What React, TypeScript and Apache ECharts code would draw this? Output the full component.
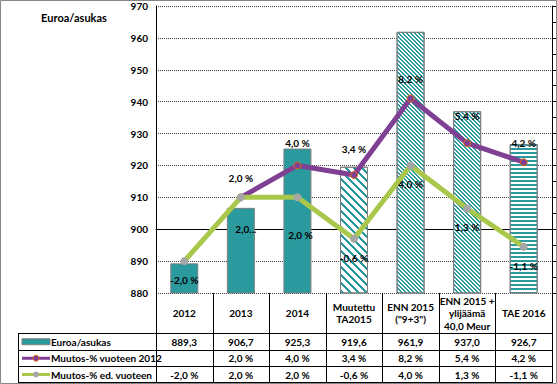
import React, { useEffect, useRef } from 'react';
import * as echarts from 'echarts';

// ---- data ----
const categories = ['2012', '2013', '2014', 'Muutettu\nTA2015', 'ENN 2015\n("9+3")', 'ENN 2015 +\nylijäämä\n40,0 Meur', 'TAE 2016'];
const euroaAsukas = [889.3, 906.7, 925.3, 919.6, 961.9, 937.0, 926.7];
const muutos2012: (number | null)[] = [null, 2.0, 4.0, 3.4, 8.2, 5.4, 4.2];
const muutosEd: (number | null)[] = [-2.0, 2.0, 2.0, -0.6, 4.0, 1.3, -1.1];
const seriesNames = ['Euroa/asukas', 'Muutos-% vuoteen 2012', 'Muutos-% ed. vuoteen'];
const axisTitle = 'Euroa/asukas';
const leftAxis = { min: 880, max: 970, interval: 10 };
const rightAxis = { min: -4, max: 14, interval: 1 };
const greenLabelText: Record<number, string> = { 1: '2,0...' };

// ---- styles ----
const W = 557, H = 384;
const GL = 156, GR = 552, GT = 6, GB = 293;
const ROW_LINES = [333, 349.5, 366, 382];
const TABLE_LEFT = 18;
const FONT = 'Lato';
const TEAL = '#2A9A9E';
const PURPLE = '#7F3F92';
const GREEN = '#A9C74A';
const ORANGE = '#E46C0A';
const GRAY_MARK = '#A6A6A6';
const barPatterns = ['solid', 'solid', 'solid', 'wide', 'dense', 'dense', 'horizontal'];
const purpleLabelOffsets = [[0, 0], [0, 0], [0, -3], [0, -7], [0, 0], [0, -8], [0, 0]];
const greenLabelOffsets = [[0, 0], [5, 13], [3, 19], [0, 0], [0, 0], [0, 0], [0, 0]];

const fmtNum = (v: number) => v.toFixed(1).replace('.', ',');
const fmtPct = (v: number | null) => (v == null ? '' : fmtNum(v) + ' %');

// pixel staircase for a "downward diagonal" hatch: period P, stripe width w
function diagRows(P: number, w: number) {
  const rows: number[][] = [];
  for (let k = 0; k < P; k++) {
    if (k === 0) rows.push([w, P - w]);
    else if (k + w <= P) rows.push([0, k, w, P - k - w]);
    else rows.push([k + w - P, P - w, P - k, 0]);
  }
  return rows;
}

function barItemStyle(p: string) {
  if (p === 'solid') return { color: TEAL };
  if (p === 'wide')
    return { color: '#fff', decal: { symbol: 'rect', symbolSize: 1, color: TEAL, dashArrayX: diagRows(8, 3), dashArrayY: [1, 0], rotation: 0 } };
  if (p === 'dense')
    return { color: '#fff', decal: { symbol: 'rect', symbolSize: 1, color: TEAL, dashArrayX: diagRows(4, 2), dashArrayY: [1, 0], rotation: 0 } };
  return { color: '#fff', decal: { symbol: 'rect', symbolSize: 1, color: TEAL, dashArrayX: [1, 0], dashArrayY: [2, 2], rotation: 0 } };
}

export default function App() {
  const ref = useRef<HTMLDivElement>(null);
  useEffect(() => {
    const chart = echarts.init(ref.current!, null, { renderer: 'svg' });
    const n = categories.length;
    const cw = (GR - GL) / n;
    const cx = (i: number) => GL + cw * (i + 0.5);
    const txt = (t: string, x: number, y: number, align = 'center') => ({
      type: 'text', silent: true, z: 50,
      style: { text: t, x, y, align, verticalAlign: 'middle', fill: '#000', font: `bold 10px ${FONT}` },
    });
    const ln = (x1: number, y1: number, x2: number, y2: number, color = '#000') => ({
      type: 'line', silent: true, z: 50,
      shape: { x1, y1, x2, y2 }, style: { stroke: color, lineWidth: 1 },
    });
    const graphic: any[] = [];
    graphic.push({ type: 'rect', silent: true, z: 100, shape: { x: 0.5, y: 0.5, width: W - 1, height: H - 1 }, style: { fill: 'none', stroke: '#868686', lineWidth: 1 } });
    graphic.push({ type: 'text', silent: true, z: 50, style: { text: axisTitle, x: 74, y: 17, align: 'center', verticalAlign: 'middle', fill: '#000', font: `bold 11px ${FONT}` } });
    // table verticals
    for (let i = 0; i <= n; i++) {
      const x = Math.round(GL + cw * i) + 0.5;
      graphic.push(ln(x, GB, x, ROW_LINES[3]));
    }
    graphic.push(ln(TABLE_LEFT + 0.5, ROW_LINES[0], TABLE_LEFT + 0.5, ROW_LINES[3]));
    ROW_LINES.forEach((y) => {
      const yy = Math.round(y) + 0.5;
      graphic.push(ln(TABLE_LEFT, yy, GR + 1, yy));
    });
    const rowMid = [0, 1, 2].map((r) => (ROW_LINES[r] + ROW_LINES[r + 1]) / 2 + 0.5);
    // legend keys
    graphic.push({ type: 'rect', silent: true, z: 50, shape: { x: 22, y: rowMid[0] - 3, width: 28, height: 6 }, style: { fill: TEAL, stroke: '#7F7F7F', lineWidth: 1 } });
    graphic.push({ type: 'line', silent: true, z: 50, shape: { x1: 22, y1: rowMid[1], x2: 50, y2: rowMid[1] }, style: { stroke: PURPLE, lineWidth: 3 } });
    graphic.push({ type: 'circle', silent: true, z: 51, shape: { cx: 36, cy: rowMid[1], r: 3 }, style: { fill: PURPLE, stroke: ORANGE, lineWidth: 1 } });
    graphic.push({ type: 'line', silent: true, z: 50, shape: { x1: 22, y1: rowMid[2], x2: 50, y2: rowMid[2] }, style: { stroke: GREEN, lineWidth: 3 } });
    graphic.push({ type: 'circle', silent: true, z: 51, shape: { cx: 36, cy: rowMid[2], r: 3 }, style: { fill: GRAY_MARK } });
    seriesNames.forEach((s, r) => graphic.push(txt(s, 51, rowMid[r], 'left')));
    for (let i = 0; i < n; i++) {
      graphic.push(txt(fmtNum(euroaAsukas[i]), cx(i), rowMid[0]));
      graphic.push(txt(fmtPct(muutos2012[i]), cx(i), rowMid[1]));
      graphic.push(txt(fmtPct(muutosEd[i]), cx(i), rowMid[2]));
    }

    const labelBase = { show: true, color: '#000', fontFamily: FONT, fontSize: 10, fontWeight: 'bold' };

    chart.setOption({
      animation: false,
      textStyle: { fontFamily: FONT },
      grid: { left: GL, top: GT, width: GR - GL, height: GB - GT, containLabel: false },
      xAxis: {
        type: 'category', data: categories,
        axisLine: { lineStyle: { color: '#000', width: 1 } },
        axisTick: { show: false },
        axisLabel: { interval: 0, margin: 20, verticalAlign: 'middle', lineHeight: 12.5, color: '#000', fontFamily: FONT, fontSize: 10, fontWeight: 'bold' },
      },
      yAxis: [
        {
          type: 'value', min: leftAxis.min, max: leftAxis.max, interval: leftAxis.interval,
          axisLine: { show: true, lineStyle: { color: '#000' } },
          axisTick: { show: false },
          axisLabel: { margin: 8, color: '#000', fontFamily: FONT, fontSize: 10, fontWeight: 'bold' },
          splitLine: { lineStyle: { type: 'dotted', color: '#404040', width: 1 } },
        },
        {
          type: 'value', min: rightAxis.min, max: rightAxis.max, interval: rightAxis.interval,
          position: 'right',
          axisLine: { show: true, lineStyle: { color: '#000' } },
          axisTick: { show: true, inside: false, length: 4, lineStyle: { color: '#000' } },
          axisLabel: { show: false },
          splitLine: { show: false },
        },
      ],
      series: [
        {
          name: seriesNames[0], type: 'bar', barWidth: 28, z: 2,
          itemStyle: { borderColor: '#7F7F7F', borderWidth: 1 },
          data: euroaAsukas.map((v, i) => ({ value: v, itemStyle: barItemStyle(barPatterns[i]) })),
        },
        {
          name: seriesNames[1], type: 'line', yAxisIndex: 1, z: 3,
          symbol: 'circle', symbolSize: 7, showAllSymbol: true,
          lineStyle: { color: PURPLE, width: 5 },
          itemStyle: { color: PURPLE, borderColor: ORANGE, borderWidth: 1 },
          data: muutos2012.map((v, i) => ({ value: v, label: { offset: purpleLabelOffsets[i] } })),
          label: { ...labelBase, position: 'top', distance: 10, formatter: (p: any) => fmtPct(p.value) },
        },
        {
          name: seriesNames[2], type: 'line', yAxisIndex: 1, z: 4,
          symbol: 'circle', symbolSize: 8, showAllSymbol: true,
          lineStyle: { color: GREEN, width: 5 },
          itemStyle: { color: GRAY_MARK, borderWidth: 0 },
          data: muutosEd.map((v, i) => ({ value: v, label: { offset: greenLabelOffsets[i] } })),
          label: { ...labelBase, position: 'bottom', distance: 10, formatter: (p: any) => greenLabelText[p.dataIndex] ?? fmtPct(p.value) },
        },
      ],
      graphic,
    });
    return () => chart.dispose();
  }, []);
  return <div ref={ref} style={{ position: 'fixed', left: 0, top: 0, width: W, height: H, background: '#fff' }} />;
}
